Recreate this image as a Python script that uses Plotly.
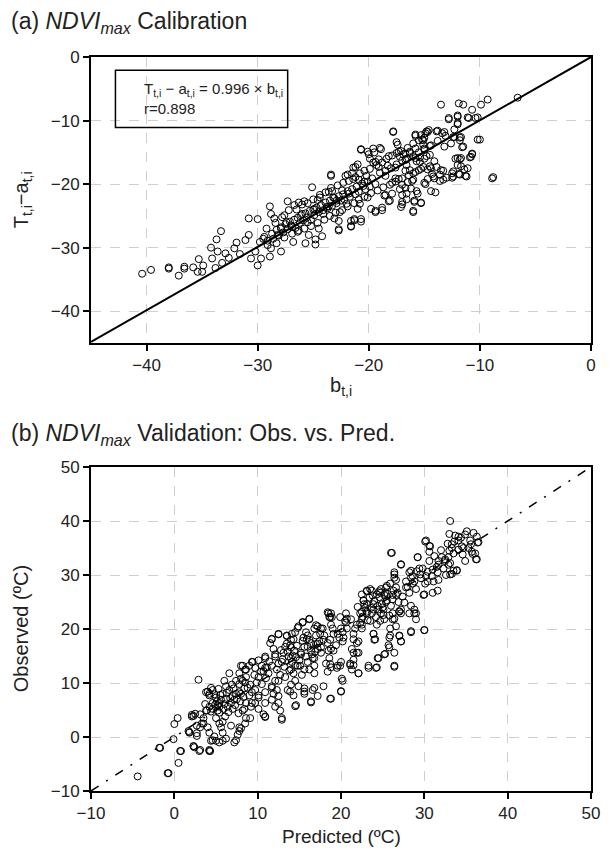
import plotly.graph_objects as go

# ---------------- data ----------------
# Panel (a): calibration, pairs of (b_t,i , T_t,i - a_t,i)
calib_points = [
    (-40.4,-34.1),(-39.6,-33.5),(-38.0,-33.1),(-38.0,-33.3),(-37.1,-34.4),(-36.6,-33.0),(-36.6,-33.3),
    (-35.8,-33.1),(-35.4,-33.8),(-35.0,-33.8),(-34.9,-32.8),(-35.3,-31.8),(-34.2,-30.0),(-33.7,-28.7),
    (-33.3,-27.4),(-33.8,-33.2),(-34.1,-31.7),(-33.6,-30.6),(-33.2,-32.4),(-32.9,-30.9),(-32.6,-31.6),
    (-32.1,-30.1),(-31.9,-29.2),(-31.6,-31.0),(-31.1,-28.8),(-30.8,-28.0),(-30.8,-25.4),(-30.0,-25.5),
    (-30.6,-31.7),(-30.0,-32.8),(-30.2,-30.6),(-29.7,-31.7),(-29.5,-28.6),(-29.2,-27.0),(-28.9,-23.5),
    (-28.8,-24.7),(-28.5,-25.4),(-29.1,-29.6),(-28.8,-30.1),(-28.9,-31.4),(-28.3,-29.3),(-27.9,-30.6),
    (-28.2,-28.0),(-27.9,-27.0),(-27.6,-24.9),(-27.3,-22.7),(-27.4,-26.0),(-27.0,-26.5),(-26.8,-29.1),
    (-26.7,-23.3),(-26.4,-27.5),(-26.3,-22.9),(-26.0,-24.7),(-25.8,-22.7),(-25.7,-29.3),(-25.5,-26.0),
    (-25.4,-28.0),(-25.1,-20.5),(-24.9,-23.9),(-24.8,-28.7),(-24.8,-29.5),(-24.5,-27.0),(-24.6,-22.5),
    (-24.4,-22.1),(-24.2,-28.2),(-24.1,-24.7),(-23.8,-23.6),(-23.6,-21.2),(-23.4,-18.7),(-23.2,-22.1),
    (-23.1,-25.4),(-22.9,-22.6),(-22.7,-27.3),(-22.6,-24.4),(-22.4,-21.0),(-22.1,-18.7),(-22.0,-23.1),
    (-21.8,-21.5),(-21.6,-26.7),(-21.4,-19.2),(-21.4,-17.4),(-21.3,-25.7),(-21.0,-16.9),(-21.0,-23.9),
    (-20.8,-23.1),(-20.7,-14.6),(-20.7,-25.9),(-20.5,-20.3),(-20.4,-17.9),(-20.2,-18.7),(-20.1,-22.1),
    (-20.0,-15.3),(-19.8,-23.9),(-19.6,-16.6),(-19.5,-15.0),(-19.4,-24.4),(-19.4,-20.0),(-19.1,-16.1),
    (-18.9,-14.5),(-18.8,-24.1),(-18.6,-21.8),(-18.5,-18.7),(-18.3,-17.1),(-18.2,-15.6),(-18.1,-22.6),
    (-17.9,-21.5),(-17.8,-11.8),(-17.6,-17.4),(-17.5,-15.1),(-17.4,-13.8),(-17.3,-19.2),(-17.2,-20.8),
    (-17.1,-23.6),(-17.0,-22.8),(-16.9,-15.3),(-16.7,-17.9),(-16.6,-21.5),(-16.5,-19.7),(-16.3,-15.1),
    (-16.2,-20.7),(-16.1,-19.5),(-16.0,-24.4),(-15.9,-22.8),(-15.8,-12.4),(-15.7,-16.4),(-15.6,-21.5),
    (-15.4,-15.8),(-15.3,-22.9),(-15.2,-13.0),(-15.1,-13.8),(-14.9,-20.0),(-14.9,-12.0),(-14.8,-15.6),
    (-14.7,-17.7),(-14.5,-17.2),(-14.3,-18.4),(-14.1,-16.4),(-14.0,-21.3),(-13.9,-11.7),(-13.6,-19.5),
    (-13.4,-12.0),(-13.3,-17.9),(-13.1,-12.4),(-13.0,-19.0),(-12.8,-9.8),(-12.5,-19.0),(-12.5,-18.3),
    (-12.4,-12.6),(-12.2,-16.0),(-12.0,-9.4),(-12.0,-10.6),(-11.9,-18.4),(-11.8,-12.7),(-11.8,-16.1),
    (-11.7,-17.2),(-11.6,-14.2),(-11.4,-17.7),(-11.3,-18.7),(-11.1,-9.5),(-10.9,-15.8),(-10.7,-15.3),
    (-10.4,-9.6),(-10.2,-13.0),(-8.9,-19.1),
    (-6.6,-6.4),(-13.5,-7.5),(-11.9,-7.3),(-11.5,-7.5),(-10.7,-8.3),(-9.9,-7.5),(-9.3,-6.7),(-12.8,-9.6),
    (-12.0,-9.2),(-12.0,-10.4),(-11.0,-9.6),(-10.2,-9.5),(-10.0,-13.0),(-8.8,-18.9),(-17.8,-11.7),(-15.8,-12.2),
    (-20.7,-14.5),(-20.1,-14.9),(-19.6,-14.4),(-19.0,-14.3),(-19.9,-16.0),(-19.4,-16.5),(-19.1,-17.3),
    (-21.2,-17.3),(-21.5,-18.3),(-21.9,-18.5),(-20.9,-19.3),(-20.4,-19.6),(-23.4,-18.5),(-23.3,-21.1),
    (-23.6,-23.5),(-22.7,-25.8),(-21.6,-26.6),(-20.7,-25.5),(-19.4,-24.2),(-18.8,-23.7),(-18.2,-22.7),
    (-18.5,-21.7),(-17.9,-19.8),(-17.6,-19.1),(-17.5,-13.4),(-17.3,-14.9),(-17.2,-15.7),(-16.7,-15.2),
    (-16.3,-14.9),(-15.8,-14.4),(-16.6,-17.0),(-16.3,-17.8),(-16.0,-18.3),(-17.0,-20.1),(-16.7,-20.6),
    (-17.0,-21.7),(-16.0,-19.3),(-15.7,-21.1),(-15.9,-22.6),(-17.0,-23.2),(-16.6,-22.4),(-16.0,-24.2),
    (-15.3,-23.0),(-15.0,-19.8),(-14.4,-21.1),(-15.4,-16.5),(-15.0,-16.0),(-14.5,-15.4),(-15.5,-17.8),
    (-15.1,-17.3),(-14.4,-17.5),(-13.9,-17.3),(-13.5,-17.8),(-13.6,-18.5),(-13.3,-19.3),(-14.1,-19.1),
    (-12.4,-18.0),(-12.4,-18.8),(-11.8,-18.5),(-11.2,-18.8),(-12.0,-17.0),(-11.7,-15.9),(-12.0,-15.9),
    (-11.1,-17.5),(-10.8,-15.7),(-10.7,-15.2),(-11.5,-14.1),(-11.8,-13.1),(-12.3,-12.6),(-11.7,-12.6),
    (-13.2,-11.8),(-13.8,-11.6),(-14.7,-11.8),(-15.0,-12.7),(-15.1,-13.1),(-15.3,-12.3),(-14.8,-11.7),
    (-14.6,-11.5),(-16.7,-16.2),(-15.8,-15.9),(-22.7,-27.1),(-21.6,-25.8),(-21.3,-25.5),
    (-29.8,-29.1),(-29.4,-28.3),(-29.1,-28.9),(-28.7,-27.8),(-28.6,-28.6),(-28.3,-27.2),(-28.1,-28.1),
    (-27.9,-26.8),(-27.7,-27.6),(-27.5,-26.3),(-27.3,-27.1),(-27.1,-25.9),(-26.9,-26.7),(-26.7,-25.6),
    (-26.6,-26.9),(-26.4,-25.3),(-26.2,-26.1),(-26.1,-24.9),(-25.9,-25.7),(-25.7,-24.6),(-25.6,-25.3),
    (-25.3,-24.2),(-25.2,-25.6),(-25.0,-24.0),(-24.9,-24.9),(-24.7,-23.7),(-24.5,-24.4),(-24.3,-23.3),
    (-24.1,-24.1),(-23.9,-22.9),(-23.7,-23.8),(-23.5,-22.6),(-23.3,-23.4),(-23.1,-22.2),(-22.9,-23.0),
    (-22.7,-21.9),(-22.5,-22.6),(-22.3,-21.6),(-22.2,-22.4),(-21.9,-21.1),(-21.7,-22.0),(-21.5,-20.8),
    (-21.2,-21.6),(-21.1,-20.4),(-20.9,-21.2),(-20.6,-19.9),(-20.3,-20.8),(-20.1,-19.6),(-19.9,-20.4),
    (-19.7,-19.1),(-28.4,-26.1),(-27.8,-25.2),(-27.2,-24.1),(-26.5,-24.0),(-26.0,-23.2),(-25.5,-23.0),
    (-25.0,-22.4),(-24.4,-21.7),(-23.9,-21.3),(-23.4,-20.6),(-22.8,-20.2),(-22.3,-19.8),(-21.8,-19.5),
    (-21.2,-18.9),(-20.8,-18.3),(-19.9,-17.6),(-19.3,-17.0),(-18.8,-16.6),(-18.4,-16.0),(-17.9,-15.5),
    (-17.1,-14.8),(-16.5,-14.3),(-16.0,-13.6),(-15.5,-13.1),(-15.0,-14.6),(-14.4,-13.9),(-13.8,-13.2),
    (-13.2,-14.1),(-12.6,-13.6),(-12.3,-11.4),(-27.6,-28.4),(-26.9,-27.8),(-26.3,-27.3),(-25.8,-27.0),
    (-25.2,-26.6),(-24.6,-26.1),(-24.0,-25.6),(-23.5,-25.0),(-23.0,-24.5),(-22.4,-24.1),(-21.9,-23.5),
    (-21.3,-23.0),(-20.9,-22.4),(-20.4,-22.0),(-19.8,-21.4),(-19.2,-21.0),(-18.7,-20.5),(-18.1,-20.1),
    (-17.6,-19.6),(-17.0,-19.1),(-16.4,-18.6),(-15.8,-18.1),(-15.3,-17.6),(-14.7,-19.2),(-14.2,-18.8),
    (-19.0,-18.2),(-18.5,-17.9),(-18.0,-17.5),(-17.5,-16.9),(-17.0,-16.3),(-16.6,-16.0),(-16.0,-15.6),
    (-15.5,-15.0),(-15.0,-14.4),(-14.5,-14.0),
]
calib_b = [p[0] for p in calib_points]
calib_t_minus_a = [p[1] for p in calib_points]

# Panel (b): validation, pairs of (predicted, observed) in deg C
valid_points = [
    (-4.4,-7.3),(-1.8,-2.0),(0.8,-2.6),(0.5,-4.8),(-0.7,-6.7),(0.0,2.4),(0.4,3.5),(1.8,0.8),(2.4,-1.9),
    (3.0,-2.6),(4.3,-2.6),(-0.1,-0.4),(2.9,10.6),
    (18.4,23.1),(18.7,22.2),(16.2,21.8),(15.4,21.3),(14.8,20.2),(17.0,20.7),(17.8,20.1),(12.5,19.1),
    (11.7,18.2),(13.5,18.7),(14.0,18.0),(15.5,18.4),(16.2,18.0),(17.2,17.3),(17.9,18.0),(19.1,19.1),
    (13.5,17.3),(14.0,16.6),(14.4,16.0),(12.1,15.3),(10.9,14.9),(10.1,14.2),(9.3,13.9),(8.0,13.2),
    (8.5,12.5),(9.7,12.8),(10.9,12.8),(11.7,13.2),(12.9,13.9),(14.0,14.6),(15.2,15.3),(16.4,16.0),
    (17.6,16.6),(18.5,16.0),(18.7,13.5),(18.4,12.1),(17.9,9.4),(17.2,7.6),(16.4,6.6),(15.6,9.0),
    (15.6,8.0),(14.6,5.9),(12.9,3.5),(10.9,3.8),(10.1,5.2),(9.1,3.5),(8.5,2.5),(7.8,1.1),(7.4,-0.6),
    (8.0,1.6),(6.8,2.1),(6.2,-0.3),(5.8,-0.7),(5.0,-0.7),(4.4,-0.7),(4.2,-2.6),(3.1,-2.4),(2.3,-1.7),
    (2.7,0.7),(1.7,1.1),(2.1,3.8),(2.5,4.3),(3.1,4.2),(3.8,4.9),(4.6,5.2),(5.4,6.3),(6.2,7.0),(7.0,7.6),
    (7.8,8.3),(8.4,9.0),(7.4,10.4),(6.6,11.8),(7.8,11.8),(8.5,10.1),(4.6,8.7),(4.2,8.0),(3.8,8.3),
    (5.0,7.3),(5.2,5.9),(3.5,2.5),(4.0,1.8),(5.8,2.8),(5.4,4.5),(7.0,5.2),(8.4,5.2),(9.3,6.3),(10.1,7.3),
    (10.9,8.3),(11.7,9.4),(12.5,10.4),(13.3,11.1),(14.0,12.5),(14.8,13.2),(16.0,13.9),(16.8,14.6),
    (14.0,9.7),(13.6,8.7),(12.5,7.6),(11.7,6.9),(10.9,6.3),(12.3,8.7),(9.3,8.3),(9.1,9.7),(8.0,10.8),
    (33.1,40.0),(33.0,37.6),(33.7,37.3),(34.1,37.1),(35.1,38.1),(35.9,37.8),(36.3,37.1),(35.5,36.4),
    (36.5,36.1),(36.1,34.0),(36.3,32.9),(35.7,34.3),(34.7,35.0),(34.9,32.6),(34.1,34.7),(33.3,35.0),
    (33.5,34.0),(32.9,33.3),(33.1,32.2),(33.3,30.2),(33.9,30.9),(32.5,32.6),(32.1,33.3),(31.7,31.9),
    (31.6,30.5),(31.7,29.1),(31.6,27.1),(31.0,26.7),(30.6,32.6),(30.2,36.4),(30.6,35.4),(30.6,34.3),
    (29.2,33.3),(29.8,31.2),(30.2,29.8),(30.4,28.8),(30.0,26.4),(29.0,27.4),(28.6,28.4),(28.2,30.5),
    (28.4,29.5),(27.8,28.8),(28.0,27.8),(27.4,26.0),(28.8,23.6),(28.4,24.3),(28.4,19.4),(30.0,19.8),
    (29.0,22.9),(28.2,22.9),(27.2,23.6),(27.0,23.3),(27.2,32.0),(26.4,30.5),(26.4,29.5),(25.9,28.4),
    (26.3,27.1),(26.6,27.7),(26.8,26.7),(26.0,34.1),(25.5,28.0),(25.3,26.7),(24.7,26.7),(25.5,25.3),
    (26.0,24.3),(26.2,22.9),(26.4,21.9),(27.0,18.8),(27.2,17.7),(25.9,20.1),(25.9,18.8),(25.7,17.0),
    (25.3,15.4),(26.4,13.2),(24.5,14.6),(24.3,12.9),(23.3,13.2),(24.1,18.1),(23.9,19.1),(24.3,20.8),
    (24.7,21.5),(25.1,22.6),(24.5,23.6),(25.1,23.6),(24.9,24.6),(23.9,24.6),(23.7,22.9),(23.5,21.5),
    (23.1,22.9),(22.9,23.9),(22.7,25.3),(22.5,26.4),(23.1,27.1),(23.7,27.1),(24.3,26.4),(22.3,22.9),
    (22.5,21.9),(22.5,20.8),(21.9,20.8),(21.7,20.1),(21.5,18.1),(21.9,17.4),(22.1,15.6),(21.5,14.3),
    (21.5,13.3),(22.1,11.8),(21.1,13.6),(20.7,21.9),(20.6,21.2),(20.6,22.9),(18.8,22.9),(18.6,22.2),
    (18.8,20.8),(19.0,20.1),(19.6,19.1),(20.0,20.1),(20.2,19.4),(19.8,18.4),(20.2,17.7),(19.4,17.0),
    (18.8,16.3),(18.4,17.4),(18.0,18.8),(18.6,14.6),(18.2,13.6),(18.8,12.9),(19.6,13.2),(20.0,13.9),
    (20.2,10.4),(20.0,8.4),(18.8,7.1),(17.6,20.1),(17.2,20.5),(16.8,20.1),(17.0,18.8),(17.4,17.7),
    (17.6,15.6),(17.2,16.3),(16.2,21.9),(15.4,21.2),(15.8,19.4),(16.0,18.8),(16.4,17.4),(15.6,16.7),
    (15.2,15.6),(15.8,14.9),(16.6,14.6),(16.8,13.2),(16.2,12.5),(15.6,12.5),(16.8,11.8),(16.6,8.7),
    (15.6,8.4),(16.4,6.4),(16.8,9.1),(14.9,20.5),(14.5,19.4),(14.1,19.1),(14.3,18.1),(13.9,17.0),
    (13.5,18.8),(13.3,16.7),(13.1,15.6),(13.7,14.9),(14.1,13.9),(14.5,13.2),(15.1,13.2),(15.3,11.5),
    (14.3,11.8),(14.5,10.4),(14.9,9.4),(13.9,8.4),(14.3,7.7),(14.5,5.7),(12.9,3.2),(12.5,19.0),
    (11.7,18.1),(11.5,17.4),(11.9,16.3),(12.1,14.9),(12.5,13.6),(12.3,12.5),(12.7,11.5),(12.1,10.4),
    (11.7,9.1),(11.9,8.0),(12.5,6.3),(12.1,5.6),(12.7,4.9),(10.9,14.6),(10.5,13.2),(10.7,12.2),
    (11.1,12.9),(11.3,11.8),(10.1,11.1),(9.9,10.1),(10.5,9.8),(9.7,8.7),(10.1,7.7),(9.7,6.3),(10.7,4.2),
    (10.9,3.7),(9.2,5.6),(9.4,13.9),(9.0,13.2),(8.6,12.5),(8.2,13.2),(8.6,11.1),(8.2,10.4),(7.8,9.8),
    (8.8,9.1),(9.0,7.7),(8.6,6.3),(8.0,8.0),(8.2,4.9),(8.6,3.5),(7.8,1.8),(7.6,0.4),(7.2,-1.0),(7.4,8.0),
    (7.2,6.9),(6.8,6.3),(6.4,5.6),(6.6,8.7),(6.2,9.4),(6.0,10.4),(5.8,8.0),(5.6,6.9),(5.4,5.6),(5.2,4.9),
    (5.0,3.5),(5.4,2.5),(5.6,1.8),(5.8,0.8),(5.4,-1.0),(4.8,0.1),(4.6,-0.6),(4.2,0.8),(4.0,8.4),(4.2,7.7),
    (4.4,9.1),(4.6,6.3),(4.2,5.6),(3.9,4.9),(3.5,3.5),(3.3,2.5),(3.1,1.8),(2.7,2.1),(2.3,3.9),(2.1,4.1),
    (4.2,-2.4),(2.3,-1.7),(2.7,0.2),(1.8,0.9),(0.7,-2.6),(-0.8,-6.7),(-1.7,-2.0),
    (26.1,34.1),(29.2,33.3),(30.1,36.2),(30.7,35.3),(27.2,31.9),(26.4,30.1),(26.6,29.1),(28.4,30.8),
    (28.6,29.8),(28.8,28.8),(27.8,27.7),(28.2,26.7),(26.2,26.3),(26.6,26.3),(25.4,27.7),(25.2,26.3),
    (24.6,27.0),(23.5,27.4),(23.1,27.0),(22.7,25.3),(23.1,24.6),(22.5,23.2),(23.1,23.2),(23.9,23.6),
    (24.4,24.3),(24.8,22.9),(25.2,21.8),(25.8,22.5),(26.2,21.8),(27.0,23.2),(27.2,22.9),(28.8,22.9),
    (29.0,21.8),(28.4,19.6),(30.0,19.8),(26.6,20.5),(27.0,18.7),(27.2,17.7),(25.8,18.4),(25.8,16.6),
    (26.4,15.6),(26.4,13.0),(25.2,15.3),(24.4,14.6),(24.2,12.8),(23.3,12.8),(22.1,11.8),(21.3,12.5),
    (21.1,13.3),(21.5,15.6),(21.3,16.3),(21.9,15.6),(22.1,17.7),(21.5,19.1),(23.9,19.1),(24.0,18.0),
    (22.5,20.1),(22.3,21.1),(20.7,20.1),(20.3,18.4),(19.9,13.2),(20.1,10.8),(20.0,8.5),(18.7,7.1),
    (19.5,12.8),(19.1,16.0),(18.7,18.0),(18.5,22.9),(18.9,22.2),(19.9,22.2),(20.5,21.5),
    (33.3,35.7),(34.1,36.4),(34.5,35.3),(35.6,35.7),(36.2,32.9),(35.8,33.9),(36.4,36.0),(33.5,30.8),
    (33.9,30.8),(33.1,30.1),(32.9,31.9),(32.5,32.9),(31.5,31.5),(31.7,32.6),(30.9,29.8),(31.1,28.8),
    (30.1,28.4),(29.5,30.1),(29.4,31.2),(29.9,26.3),
    (5.1,6.6),(5.5,7.8),(6.0,6.1),(6.3,8.2),(6.7,7.2),(7.1,9.0),(7.5,7.0),(5.9,5.2),(6.5,4.6),(7.3,5.9),
    (4.9,6.0),(4.4,4.7),(7.9,6.6),(8.3,7.4),(6.9,9.7),(5.3,8.9),(4.8,7.9),(7.7,4.4),(6.1,3.8),(3.7,6.1),
    (13.0,14.4),(13.6,15.8),(14.2,15.1),(14.7,16.9),(15.0,14.2),(15.4,17.8),(16.0,16.7),(16.5,15.3),
    (17.0,17.2),(17.5,19.1),(13.2,13.0),(14.6,14.8),(15.9,18.1),(16.9,15.8),(12.8,16.1),(11.4,14.0),
    (10.4,12.1),(11.0,10.9),(9.6,11.5),(13.8,12.3),
    (22.0,24.1),(22.8,24.6),(23.4,25.8),(23.6,23.9),(24.0,25.2),(24.6,25.9),(25.0,24.0),(25.6,26.5),
    (24.2,22.2),(23.2,21.6),(22.6,22.3),(25.4,25.0),(26.2,25.5),(23.8,26.2),(24.8,27.4),(26.9,25.0),
    (27.6,24.9),(21.2,21.8),
    (31.2,33.5),(32.0,34.6),(32.8,35.8),(33.6,36.2),(34.4,36.9),(34.9,37.5),(32.3,31.2),(31.0,31.0),
    (30.4,30.6),(29.6,29.4),(29.1,30.7),(33.0,34.5),(34.6,33.8),(35.3,35.0),(32.6,30.0),
]
valid_pred = [p[0] for p in valid_points]
valid_obs = [p[1] for p in valid_points]

calib_slope = 0.996
calib_r = 0.898
calib_range = [-45, 0]
valid_range = [-10, 50]
calib_ticks = [-40, -30, -20, -10, 0]
valid_ticks = [-10, 0, 10, 20, 30, 40, 50]

# ---------------- figure ----------------
# the page body keeps its default 8px margin, so the figure is sized to the visible area
W, H = 601, 841
ML, MR = 83, 9
A_TOP, A_BOT = 49, 335      # pixel rows of panel (a) frame (figure coordinates)
B_TOP, B_BOT = 459, 783     # pixel rows of panel (b) frame
MT, MB = A_TOP, H - B_BOT
PH = H - MT - MB
PW = W - ML - MR

def py(pix):  # pixel y -> paper y
    return (H - MB - pix) / PH

def px(pix):  # pixel x -> paper x
    return (pix - ML) / PW

FONT = "Liberation Sans, Arial, Helvetica, sans-serif"
TXT = "#222222"
marker = dict(symbol="circle-open", size=7, color="black", line=dict(width=1, color="black"))

fig = go.Figure()
fig.add_trace(go.Scatter(x=calib_b, y=calib_t_minus_a, mode="markers", marker=marker,
                         xaxis="x", yaxis="y", showlegend=False))
fig.add_trace(go.Scatter(x=calib_range, y=[v * calib_slope for v in calib_range], mode="lines",
                         line=dict(color="black", width=2), xaxis="x", yaxis="y", showlegend=False))
fig.add_trace(go.Scatter(x=valid_pred, y=valid_obs, mode="markers", marker=marker,
                         xaxis="x2", yaxis="y2", showlegend=False))
fig.add_trace(go.Scatter(x=valid_range, y=valid_range, mode="lines",
                         line=dict(color="black", width=1.5, dash="9px,9px,2px,9px"),
                         xaxis="x2", yaxis="y2", showlegend=False))

axis_common = dict(showline=True, linecolor="black", linewidth=2, mirror=True,
                   ticks="outside", ticklen=6, tickwidth=2, tickcolor="black",
                   showgrid=True, gridcolor="#cfcfcf", gridwidth=1, griddash="10px,9px",
                   zeroline=False, tickfont=dict(family=FONT, size=17, color=TXT))

fig.update_layout(
    width=W, height=H, margin=dict(l=ML, r=MR, t=MT, b=MB),
    plot_bgcolor="white", paper_bgcolor="white",
    font=dict(family=FONT, color=TXT),
    xaxis=dict(domain=[0, 1], anchor="y", range=calib_range, tickvals=calib_ticks, **axis_common),
    yaxis=dict(domain=[py(A_BOT), 1], anchor="x", range=calib_range, tickvals=calib_ticks, **axis_common),
    xaxis2=dict(domain=[0, 1], anchor="y2", range=valid_range, tickvals=valid_ticks, **axis_common),
    yaxis2=dict(domain=[0, py(B_TOP)], anchor="x2", range=valid_range, tickvals=valid_ticks, **axis_common),
)

ann = []
ann.append(dict(text="(a) <i>NDVI<sub>max</sub></i> Calibration", xref="paper", yref="paper",
                x=px(0), y=py(14), xanchor="left", yanchor="middle", showarrow=False,
                font=dict(size=23, family=FONT, color=TXT)))
ann.append(dict(text="(b) <i>NDVI<sub>max</sub></i> Validation: Obs. vs. Pred.", xref="paper", yref="paper",
                x=px(0), y=py(426), xanchor="left", yanchor="middle", showarrow=False,
                font=dict(size=23, family=FONT, color=TXT)))
ann.append(dict(text="b<sub>t,i</sub>", xref="paper", yref="paper", x=0.5, y=py(378),
                xanchor="center", yanchor="middle", showarrow=False, font=dict(size=20, family=FONT, color=TXT)))
ann.append(dict(text="T<sub>t,i</sub>\u2212a<sub>t,i</sub>", xref="paper", yref="paper", x=px(13), y=py((A_TOP + A_BOT) / 2),
                xanchor="center", yanchor="middle", textangle=-90, showarrow=False,
                font=dict(size=20, family=FONT, color=TXT)))
ann.append(dict(text="Predicted (\u00baC)", xref="paper", yref="paper", x=0.5, y=py(828),
                xanchor="center", yanchor="middle", showarrow=False, font=dict(size=19, family=FONT, color=TXT)))
ann.append(dict(text="Observed (\u00baC)", xref="paper", yref="paper", x=px(12), y=py((B_TOP + B_BOT) / 2),
                xanchor="center", yanchor="middle", textangle=-90, showarrow=False,
                font=dict(size=20, family=FONT, color=TXT)))
ann.append(dict(text="T<sub>t,i</sub> \u2212 a<sub>t,i</sub> = %.3f \u00d7 b<sub>t,i</sub><br>r=%.3f" % (calib_slope, calib_r),
                xref="x", yref="y", x=-40.4, y=-6.6, xanchor="left", yanchor="middle",
                align="left", showarrow=False, font=dict(size=15, family=FONT, color=TXT)))
fig.update_layout(annotations=ann)
fig.add_shape(type="rect", xref="x", yref="y", x0=-42.8, x1=-27.3, y0=-11.1, y1=-2.1,
              line=dict(color="black", width=1.5), fillcolor="rgba(0,0,0,0)", layer="above")

fig.write_html("out.html")
